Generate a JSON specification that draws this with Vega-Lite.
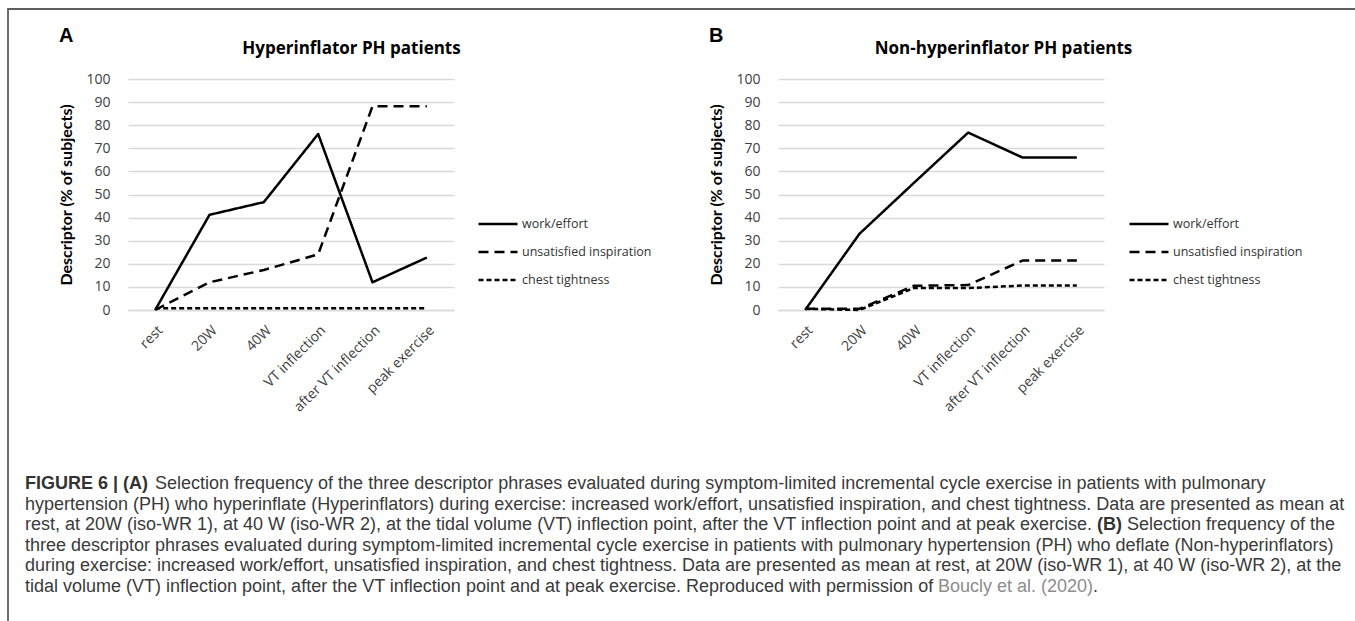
{
  "$schema": "https://vega.github.io/schema/vega-lite/v6.json",
  "autosize": "none",
  "padding": {"left": 8, "top": 9, "right": 1347, "bottom": 612},
  "bounds": "flush",
  "spacing": 70,
  "datasets": {
    "hyper": [
      {"stage": "rest", "series": "work/effort", "pct": 0},
      {"stage": "20W", "series": "work/effort", "pct": 41.2},
      {"stage": "40W", "series": "work/effort", "pct": 46.7},
      {"stage": "VT inflection", "series": "work/effort", "pct": 76.2},
      {"stage": "after VT inflection", "series": "work/effort", "pct": 12.0},
      {"stage": "peak exercise", "series": "work/effort", "pct": 22.7},
      {"stage": "rest", "series": "unsatisfied inspiration", "pct": 0},
      {"stage": "20W", "series": "unsatisfied inspiration", "pct": 12.0},
      {"stage": "40W", "series": "unsatisfied inspiration", "pct": 17.3},
      {"stage": "VT inflection", "series": "unsatisfied inspiration", "pct": 24.1},
      {"stage": "after VT inflection", "series": "unsatisfied inspiration", "pct": 88.2},
      {"stage": "peak exercise", "series": "unsatisfied inspiration", "pct": 88.2},
      {"stage": "rest", "series": "chest tightness", "pct": 0.8},
      {"stage": "20W", "series": "chest tightness", "pct": 0.8},
      {"stage": "40W", "series": "chest tightness", "pct": 0.8},
      {"stage": "VT inflection", "series": "chest tightness", "pct": 0.8},
      {"stage": "after VT inflection", "series": "chest tightness", "pct": 0.8},
      {"stage": "peak exercise", "series": "chest tightness", "pct": 0.8}
    ],
    "nonhyper": [
      {"stage": "rest", "series": "work/effort", "pct": 0},
      {"stage": "20W", "series": "work/effort", "pct": 33.0},
      {"stage": "40W", "series": "work/effort", "pct": 55.0},
      {"stage": "VT inflection", "series": "work/effort", "pct": 76.8},
      {"stage": "after VT inflection", "series": "work/effort", "pct": 66.0},
      {"stage": "peak exercise", "series": "work/effort", "pct": 66.0},
      {"stage": "rest", "series": "unsatisfied inspiration", "pct": 0.5},
      {"stage": "20W", "series": "unsatisfied inspiration", "pct": 0.5},
      {"stage": "40W", "series": "unsatisfied inspiration", "pct": 10.5},
      {"stage": "VT inflection", "series": "unsatisfied inspiration", "pct": 10.8},
      {"stage": "after VT inflection", "series": "unsatisfied inspiration", "pct": 21.4},
      {"stage": "peak exercise", "series": "unsatisfied inspiration", "pct": 21.4},
      {"stage": "rest", "series": "chest tightness", "pct": 0.5},
      {"stage": "20W", "series": "chest tightness", "pct": 0},
      {"stage": "40W", "series": "chest tightness", "pct": 9.5},
      {"stage": "VT inflection", "series": "chest tightness", "pct": 9.5},
      {"stage": "after VT inflection", "series": "chest tightness", "pct": 10.6},
      {"stage": "peak exercise", "series": "chest tightness", "pct": 10.6}
    ],
    "caption": [
      {"line": 1, "part": "fig", "text": "FIGURE 6 | (A)"},
      {"line": 1, "part": "after_fig", "text": "Selection frequency of the three descriptor phrases evaluated during symptom-limited incremental cycle exercise in patients with pulmonary"},
      {"line": 2, "part": "body", "text": "hypertension (PH) who hyperinflate (Hyperinflators) during exercise: increased work/effort, unsatisfied inspiration, and chest tightness. Data are presented as mean at"},
      {"line": 3, "part": "body", "text": "rest, at 20W (iso-WR 1), at 40 W (iso-WR 2), at the tidal volume (VT) inflection point, after the VT inflection point and at peak exercise."},
      {"line": 3, "part": "b", "text": "(B)"},
      {"line": 3, "part": "after_b", "text": "Selection frequency of the"},
      {"line": 4, "part": "body", "text": "three descriptor phrases evaluated during symptom-limited incremental cycle exercise in patients with pulmonary hypertension (PH) who deflate (Non-hyperinflators)"},
      {"line": 5, "part": "body", "text": "during exercise: increased work/effort, unsatisfied inspiration, and chest tightness. Data are presented as mean at rest, at 20W (iso-WR 1), at 40 W (iso-WR 2), at the"},
      {"line": 6, "part": "body", "text": "tidal volume (VT) inflection point, after the VT inflection point and at peak exercise. Reproduced with permission of"},
      {"line": 6, "part": "cite", "text": "Boucly et al. (2020)"},
      {"line": 6, "part": "end", "text": "."}
    ]
  },
  "vconcat": [
    {
      "bounds": "flush",
      "vconcat": [
        {
          "width": 1360,
          "height": 620,
          "view": {"stroke": "#5e5e5e", "strokeWidth": 1.8},
          "data": {"values": [{}]},
          "mark": {"type": "text", "text": ""},
          "encoding": {}
        }
      ]
    },
    {
      "bounds": "flush",
      "spacing": 120,
      "hconcat": [
        {
          "bounds": "flush",
          "vconcat": [
            {
              "width": 1300,
              "height": 509,
              "data": {"name": "caption"},
              "encoding": {
                "y": {"field": "line", "type": "quantitative", "axis": null, "scale": {"domain": [-18.76, 6.07], "reverse": true, "nice": false, "zero": false}},
                "x": {"value": 17},
                "text": {"field": "text"}
              },
              "layer": [
                {"transform": [{"filter": "datum.part === 'body'"}], "mark": {"type": "text", "align": "left", "baseline": "middle", "font": "Liberation Sans", "fontSize": 18, "color": "#3a3a3a"}},
                {"transform": [{"filter": "datum.part === 'fig'"}], "mark": {"type": "text", "align": "left", "baseline": "middle", "font": "Liberation Sans", "fontSize": 18, "fontWeight": "bold", "color": "#333"}},
                {"transform": [{"filter": "datum.part === 'after_fig'"}], "mark": {"type": "text", "align": "left", "baseline": "middle", "font": "Liberation Sans", "fontSize": 18, "color": "#3a3a3a", "dx": 130}},
                {"transform": [{"filter": "datum.part === 'b'"}], "mark": {"type": "text", "align": "left", "baseline": "middle", "font": "Liberation Sans", "fontSize": 18, "fontWeight": "bold", "color": "#333", "dx": 1072}},
                {"transform": [{"filter": "datum.part === 'after_b'"}], "mark": {"type": "text", "align": "left", "baseline": "middle", "font": "Liberation Sans", "fontSize": 18, "color": "#3a3a3a", "dx": 1102}},
                {"transform": [{"filter": "datum.part === 'cite'"}], "mark": {"type": "text", "align": "left", "baseline": "middle", "font": "Liberation Sans", "fontSize": 18, "color": "#8c8c8c", "dx": 913}},
                {"transform": [{"filter": "datum.part === 'end'"}], "mark": {"type": "text", "align": "left", "baseline": "middle", "font": "Liberation Sans", "fontSize": 18, "color": "#3a3a3a", "dx": 1068}}
              ]
            }
          ]
        },
        {
          "bounds": "flush",
          "spacing": 324,
          "hconcat": [
            {
              "width": 326,
              "height": 231,
              "data": {"name": "hyper"},
              "title": {"text": "A", "anchor": "start", "frame": "group", "dx": -69, "dy": 11, "font": "Liberation Sans", "fontSize": 20, "fontWeight": "bold", "color": "#000"},
              "layer": [
                {
                  "mark": {"type": "line", "strokeWidth": 2.5, "color": "#000", "strokeJoin": "round"},
                  "encoding": {
                    "x": {"field": "stage", "type": "ordinal", "sort": ["rest", "20W", "40W", "VT inflection", "after VT inflection", "peak exercise"], "scale": {"type": "point", "padding": 0.5},
                      "axis": {"title": null, "labelAngle": -45, "labelFont": "Open Sans", "labelFontSize": 14, "labelColor": "#404040", "labelPadding": 13, "ticks": false, "tickSize": 0, "domain": true, "domainColor": "#d9d9d9", "domainWidth": 1.5, "grid": false}},
                    "y": {"field": "pct", "type": "quantitative", "scale": {"domain": [0, 100]},
                      "axis": {"title": "Descriptor (% of subjects)", "titleFont": "Lato", "titleFontSize": 16, "titleFontWeight": "bold", "titleColor": "#000", "titlePadding": 11, "labelFont": "Open Sans", "labelFontSize": 14, "labelColor": "#404040", "labelPadding": 18, "ticks": false, "tickSize": 0, "domain": false, "grid": true, "gridColor": "#d9d9d9", "gridWidth": 1.5, "values": [0, 10, 20, 30, 40, 50, 60, 70, 80, 90, 100]}},
                    "strokeDash": {"field": "series", "type": "nominal", "sort": ["work/effort", "unsatisfied inspiration", "chest tightness"],
                      "scale": {"domain": ["work/effort", "unsatisfied inspiration", "chest tightness"], "range": [[1, 0], [10, 6], [5, 3]]},
                      "legend": {"orient": "none", "legendX": 349, "legendY": 124, "title": null, "symbolType": "stroke", "symbolSize": 1521, "symbolStrokeWidth": 2.5, "symbolStrokeColor": "#000", "labelFont": "Open Sans", "labelFontSize": 12.5, "labelColor": "#333", "labelOffset": 3, "rowPadding": 0}}
                  }
                },
                {
                  "mark": {"type": "rule", "opacity": 0},
                  "encoding": {
                    "x": {"field": "stage", "type": "ordinal", "sort": ["rest", "20W", "40W", "VT inflection", "after VT inflection", "peak exercise"],
                      "axis": {"orient": "top", "title": "Hyperinflator PH patients", "labels": false, "ticks": false, "domain": false, "grid": false, "titleFont": "Open Sans", "titleFontSize": 17, "titleFontWeight": "bold", "titleColor": "#000", "titleX": 223, "titleY": -26, "titleBaseline": "alphabetic", "titleAlign": "center"}}
                  }
                }
              ],
              "resolve": {"axis": {"x": "independent"}}
            },
            {
              "width": 326,
              "height": 231,
              "data": {"name": "nonhyper"},
              "title": {"text": "B", "anchor": "start", "frame": "group", "dx": -69, "dy": 11, "font": "Liberation Sans", "fontSize": 20, "fontWeight": "bold", "color": "#000"},
              "layer": [
                {
                  "mark": {"type": "line", "strokeWidth": 2.5, "color": "#000", "strokeJoin": "round"},
                  "encoding": {
                    "x": {"field": "stage", "type": "ordinal", "sort": ["rest", "20W", "40W", "VT inflection", "after VT inflection", "peak exercise"], "scale": {"type": "point", "padding": 0.5},
                      "axis": {"title": null, "labelAngle": -45, "labelFont": "Open Sans", "labelFontSize": 14, "labelColor": "#404040", "labelPadding": 13, "ticks": false, "tickSize": 0, "domain": true, "domainColor": "#d9d9d9", "domainWidth": 1.5, "grid": false}},
                    "y": {"field": "pct", "type": "quantitative", "scale": {"domain": [0, 100]},
                      "axis": {"title": "Descriptor (% of subjects)", "titleFont": "Lato", "titleFontSize": 16, "titleFontWeight": "bold", "titleColor": "#000", "titlePadding": 11, "labelFont": "Open Sans", "labelFontSize": 14, "labelColor": "#404040", "labelPadding": 18, "ticks": false, "tickSize": 0, "domain": false, "grid": true, "gridColor": "#d9d9d9", "gridWidth": 1.5, "values": [0, 10, 20, 30, 40, 50, 60, 70, 80, 90, 100]}},
                    "strokeDash": {"field": "series", "type": "nominal", "sort": ["work/effort", "unsatisfied inspiration", "chest tightness"],
                      "scale": {"domain": ["work/effort", "unsatisfied inspiration", "chest tightness"], "range": [[1, 0], [10, 6], [5, 3]]},
                      "legend": {"orient": "none", "legendX": 350, "legendY": 124, "title": null, "symbolType": "stroke", "symbolSize": 1521, "symbolStrokeWidth": 2.5, "symbolStrokeColor": "#000", "labelFont": "Open Sans", "labelFontSize": 12.5, "labelColor": "#333", "labelOffset": 3, "rowPadding": 0}}
                  }
                },
                {
                  "mark": {"type": "rule", "opacity": 0},
                  "encoding": {
                    "x": {"field": "stage", "type": "ordinal", "sort": ["rest", "20W", "40W", "VT inflection", "after VT inflection", "peak exercise"],
                      "axis": {"orient": "top", "title": "Non-hyperinflator PH patients", "labels": false, "ticks": false, "domain": false, "grid": false, "titleFont": "Open Sans", "titleFontSize": 17, "titleFontWeight": "bold", "titleColor": "#000", "titleX": 225, "titleY": -26, "titleBaseline": "alphabetic", "titleAlign": "center"}}
                  }
                }
              ],
              "resolve": {"axis": {"x": "independent"}}
            }
          ],
          "resolve": {"legend": {"strokeDash": "independent"}, "scale": {"x": "independent", "y": "independent", "strokeDash": "independent"}}
        }
      ]
    }
  ],
  "config": {"view": {"stroke": null}, "font": "Lato"}
}
